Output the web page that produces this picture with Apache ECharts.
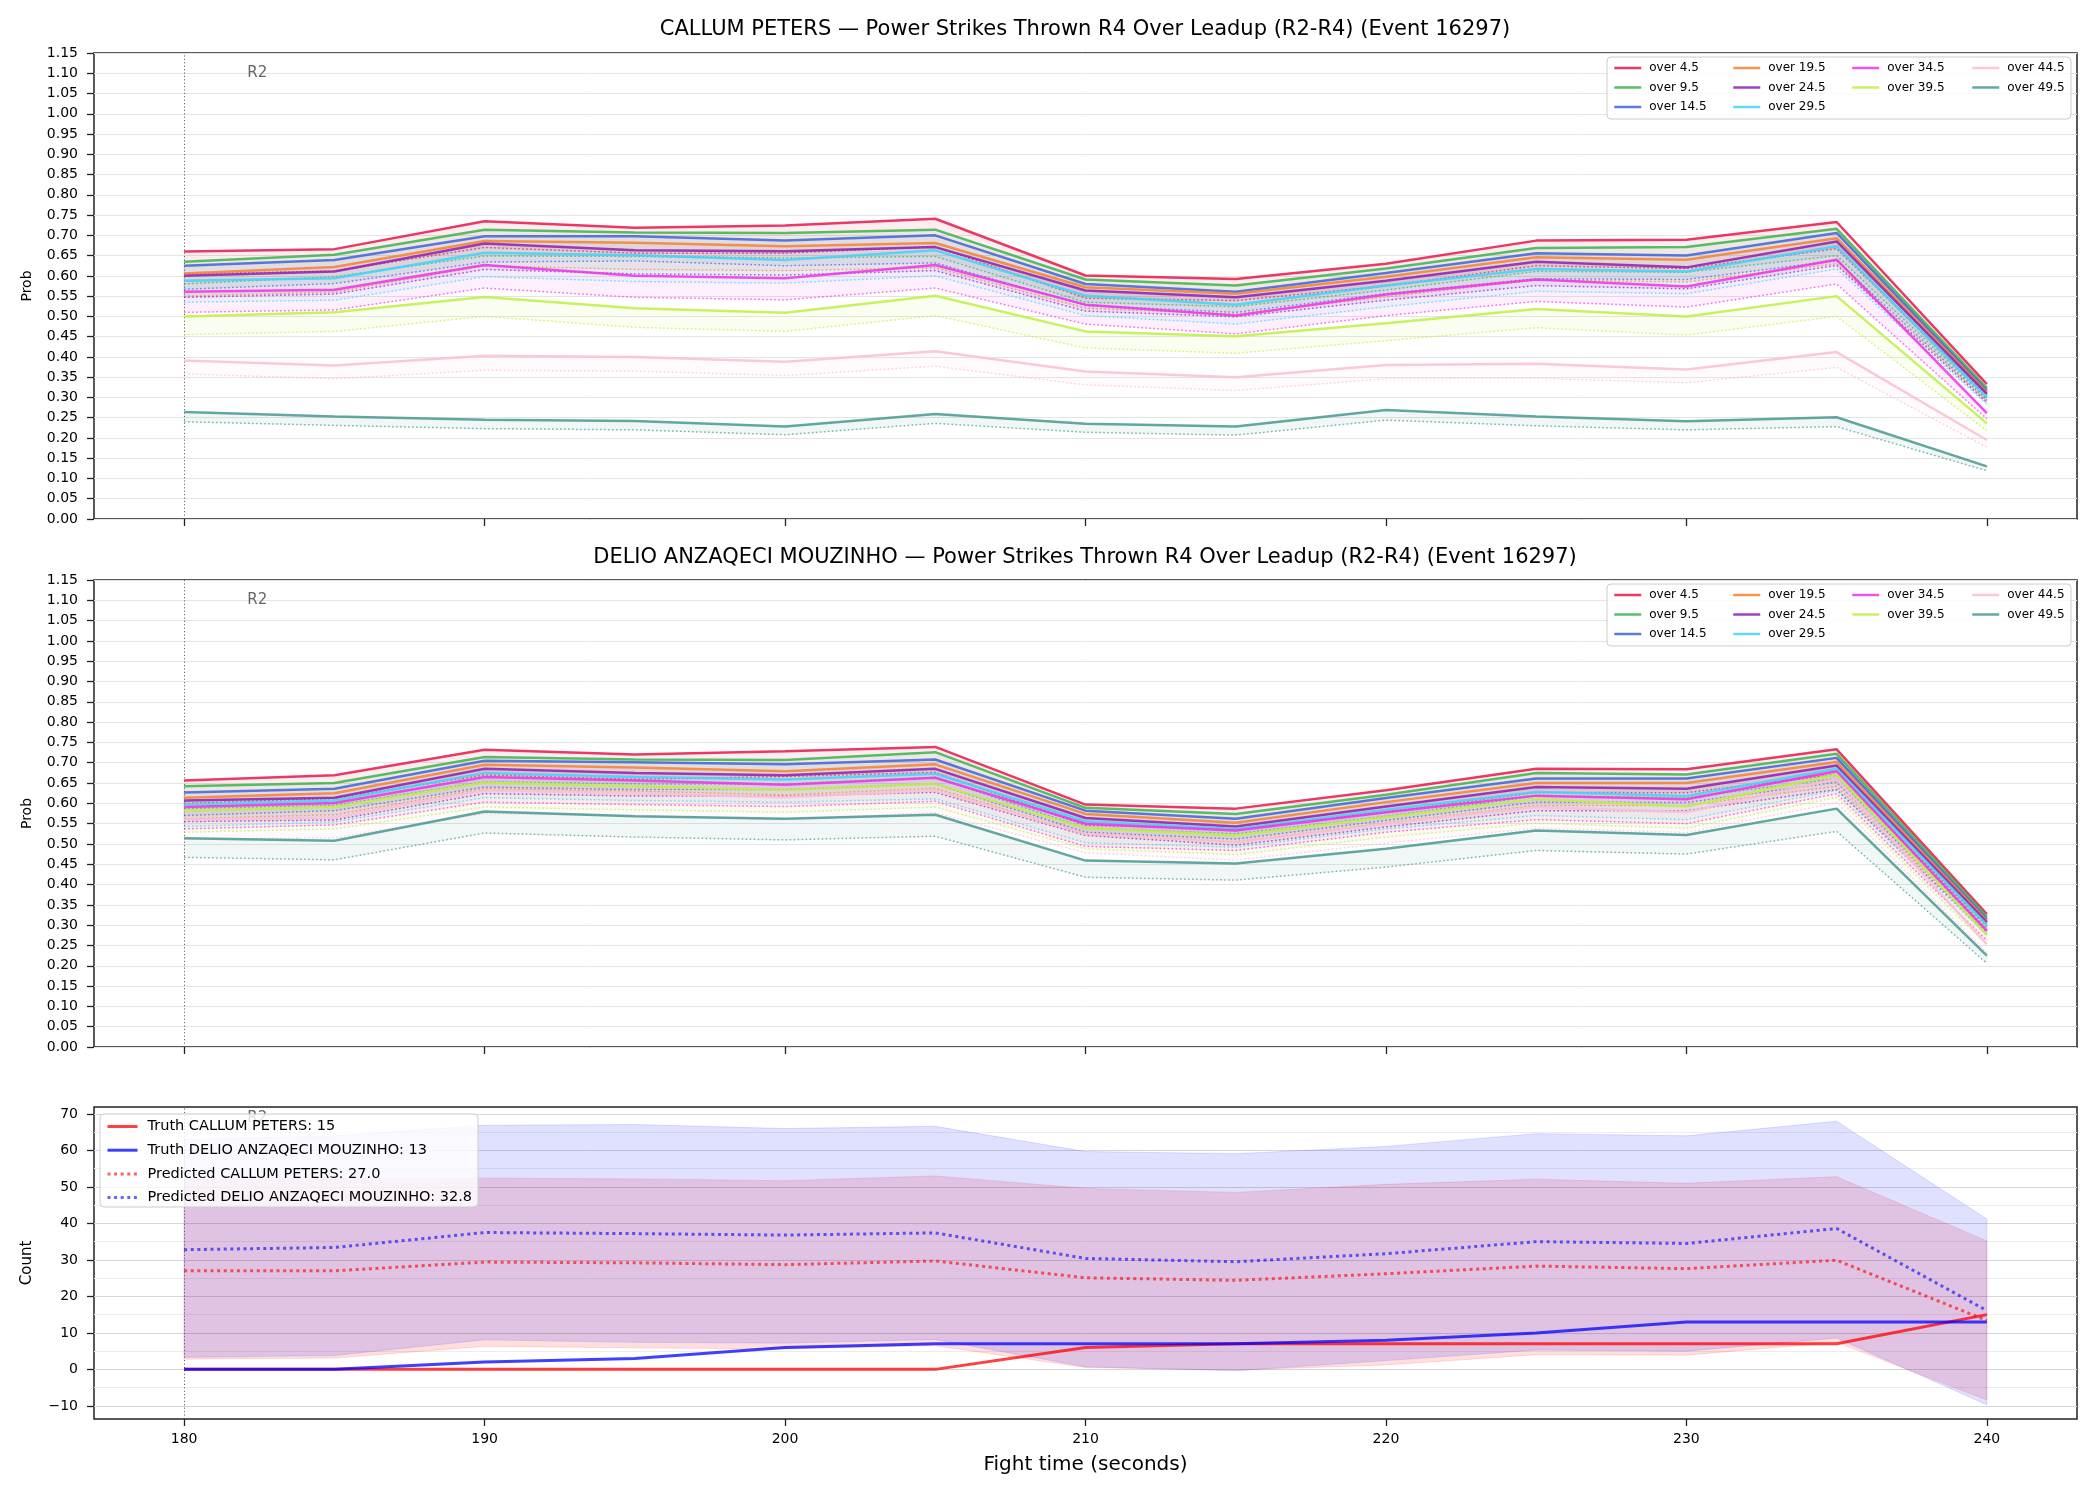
<!DOCTYPE html>
<html>
<head>
<meta charset="utf-8">
<script src="https://cdn.jsdelivr.net/npm/echarts@6/dist/echarts.min.js"></script>
<style>html,body{margin:0;padding:0;background:#fff}#c{width:2100px;height:1500px}</style>
</head>
<body>
<div id="c"></div>
<script>
// ---------------- DATA ----------------
const fighterA = 'CALLUM PETERS';
const fighterB = 'DELIO ANZAQECI MOUZINHO';
const eventLabel = 'Power Strikes Thrown R4 Over Leadup (R2-R4) (Event 16297)';
const times = [180,185,190,195,200,205,210,215,220,225,230,235,240];
const thresholdLabels = ['over 4.5','over 9.5','over 14.5','over 19.5','over 24.5','over 29.5','over 34.5','over 39.5','over 44.5','over 49.5'];
const xTickValues = [180,190,200,210,220,230,240];
const countTickValues = [-10,0,10,20,30,40,50,60,70];
const countGridValues = [-10,-5,0,5,10,15,20,25,30,35,40,45,50,55,60,65,70];
const markerTime = 180;
const markerText = 'R2';

// Panel 1 (CALLUM PETERS) solid lines, one row per threshold
const callumSolid = [
  [0.660,0.666,0.735,0.719,0.724,0.741,0.601,0.592,0.630,0.687,0.689,0.733,0.333],
  [0.635,0.652,0.714,0.707,0.706,0.714,0.591,0.576,0.618,0.669,0.671,0.716,0.323],
  [0.625,0.639,0.698,0.698,0.687,0.700,0.580,0.561,0.607,0.656,0.650,0.706,0.317],
  [0.606,0.622,0.686,0.682,0.673,0.681,0.572,0.556,0.598,0.646,0.640,0.693,0.313],
  [0.600,0.611,0.680,0.663,0.661,0.671,0.564,0.547,0.588,0.635,0.621,0.685,0.309],
  [0.588,0.594,0.657,0.651,0.639,0.663,0.551,0.529,0.576,0.617,0.611,0.673,0.300],
  [0.561,0.566,0.627,0.600,0.594,0.627,0.529,0.502,0.554,0.591,0.574,0.640,0.261],
  [0.500,0.510,0.548,0.520,0.509,0.551,0.463,0.451,0.483,0.518,0.500,0.550,0.236],
  [0.391,0.379,0.403,0.400,0.388,0.414,0.364,0.350,0.380,0.383,0.369,0.412,0.195],
  [0.264,0.253,0.245,0.242,0.228,0.259,0.235,0.228,0.269,0.253,0.241,0.251,0.130]
];
// Panel 1 dotted lines
const callumDotted = [
  [0.605,0.612,0.670,0.656,0.656,0.672,0.545,0.539,0.575,0.625,0.618,0.667,0.305],
  [0.580,0.598,0.649,0.648,0.644,0.648,0.535,0.524,0.565,0.611,0.609,0.650,0.298],
  [0.567,0.581,0.634,0.637,0.625,0.632,0.527,0.510,0.556,0.593,0.591,0.638,0.293],
  [0.550,0.560,0.625,0.616,0.613,0.620,0.520,0.506,0.548,0.590,0.585,0.630,0.290],
  [0.547,0.555,0.616,0.605,0.602,0.613,0.513,0.499,0.540,0.576,0.568,0.626,0.287],
  [0.535,0.540,0.598,0.586,0.582,0.600,0.502,0.481,0.524,0.562,0.556,0.617,0.283],
  [0.510,0.516,0.570,0.547,0.541,0.570,0.481,0.457,0.502,0.537,0.523,0.580,0.247],
  [0.455,0.463,0.500,0.473,0.463,0.502,0.422,0.409,0.440,0.472,0.454,0.500,0.218],
  [0.358,0.346,0.367,0.365,0.354,0.377,0.331,0.317,0.346,0.347,0.336,0.374,0.177],
  [0.240,0.231,0.223,0.220,0.208,0.236,0.214,0.207,0.244,0.230,0.220,0.228,0.119]
];
// Panel 2 (DELIO ANZAQECI MOUZINHO) solid lines
const delioSolid = [
  [0.656,0.669,0.732,0.720,0.728,0.739,0.597,0.587,0.632,0.685,0.684,0.733,0.327],
  [0.642,0.650,0.714,0.708,0.707,0.726,0.589,0.574,0.621,0.675,0.671,0.722,0.321],
  [0.627,0.636,0.705,0.701,0.696,0.708,0.582,0.562,0.613,0.661,0.661,0.712,0.315],
  [0.614,0.625,0.695,0.688,0.679,0.696,0.574,0.552,0.603,0.650,0.650,0.702,0.311],
  [0.607,0.614,0.685,0.675,0.669,0.685,0.564,0.543,0.592,0.640,0.636,0.693,0.307],
  [0.597,0.607,0.675,0.665,0.659,0.673,0.556,0.537,0.584,0.628,0.618,0.685,0.301],
  [0.591,0.601,0.665,0.656,0.646,0.663,0.550,0.533,0.578,0.619,0.610,0.679,0.286],
  [0.582,0.591,0.651,0.642,0.633,0.648,0.539,0.521,0.566,0.611,0.592,0.671,0.276],
  [0.560,0.566,0.632,0.625,0.615,0.632,0.525,0.504,0.550,0.591,0.578,0.660,0.253],
  [0.514,0.508,0.580,0.568,0.562,0.572,0.459,0.452,0.488,0.533,0.522,0.587,0.225]
];
// Panel 2 dotted lines
const delioDotted = [
  [0.600,0.612,0.670,0.659,0.666,0.676,0.546,0.537,0.578,0.627,0.626,0.671,0.299],
  [0.587,0.595,0.653,0.648,0.647,0.664,0.539,0.525,0.568,0.618,0.614,0.661,0.294],
  [0.570,0.582,0.640,0.634,0.634,0.648,0.529,0.512,0.558,0.603,0.602,0.652,0.288],
  [0.562,0.572,0.636,0.630,0.621,0.637,0.525,0.505,0.552,0.595,0.595,0.642,0.285],
  [0.555,0.559,0.624,0.618,0.618,0.627,0.521,0.497,0.542,0.582,0.582,0.634,0.281],
  [0.543,0.554,0.614,0.607,0.603,0.611,0.503,0.492,0.537,0.570,0.560,0.632,0.276],
  [0.537,0.547,0.603,0.597,0.592,0.605,0.494,0.484,0.529,0.560,0.550,0.624,0.262],
  [0.529,0.537,0.591,0.584,0.578,0.591,0.488,0.474,0.517,0.551,0.539,0.615,0.252],
  [0.512,0.515,0.575,0.570,0.560,0.577,0.478,0.460,0.502,0.539,0.528,0.602,0.232],
  [0.467,0.461,0.527,0.517,0.510,0.519,0.418,0.411,0.443,0.484,0.475,0.531,0.206]
];
// Panel 3 counts
const truthA = [0,0,0,0,0,0,6,7,7,7,7,7,15];
const truthB = [0,0,2,3,6,7,7,7,8,10,13,13,13];
const predA  = [27.0,27.0,29.4,29.2,28.7,29.7,25.1,24.4,26.2,28.3,27.6,29.9,13.4];
const predB  = [32.8,33.4,37.5,37.2,36.8,37.4,30.4,29.5,31.7,35.0,34.5,38.6,16.1];
const bandAHigh = [52.0,52.2,52.4,52.2,51.7,53.0,49.6,48.5,50.7,52.1,51.0,52.8,35.2];
const bandALow  = [2.8,3.1,6.3,5.9,5.6,6.5,0.5,-0.2,1.2,4.0,3.9,7.4,-8.4];
const bandBHigh = [63.0,64.0,66.9,67.1,66.0,66.6,59.7,59.1,61.1,64.6,64.0,68.0,41.2];
const bandBLow  = [3.3,3.8,8.1,7.4,7.2,8.2,0.7,-0.4,2.4,5.3,5.0,8.6,-9.7];

// ---------------- STYLE ----------------
const FONT = 'DejaVu Sans';
const palette = ['#e6194b','#3cb44b','#4363d8','#f58231','#911eb4','#42d4f4','#f032e6','#bfef45','#fabed4','#469990'];
function rgba(hex, a){const n=parseInt(hex.slice(1),16);return `rgba(${(n>>16)&255},${(n>>8)&255},${n&255},${a})`;}

const series = [];
function band(gi, lo, hi, fill, stroke, z){
  return {
    type:'custom', xAxisIndex:gi, yAxisIndex:gi, silent:true, z, animation:false,
    data: times.map((t,k)=>[t, lo[k], hi[k]]),
    encode:{x:0, y:[1,2]},
    renderItem:(params, api)=>{
      if (params.dataIndex !== 0) return null;
      const up=[], dn=[];
      for (let k=0;k<times.length;k++){ up.push(api.coord([times[k], hi[k]])); dn.push(api.coord([times[k], lo[k]])); }
      return {type:'polygon', shape:{points: up.concat(dn.reverse())}, style:{fill, stroke, lineWidth:1}};
    }
  };
}
function addProbPanel(gi, solid, dotted){
  solid.forEach((row,i)=>{ series.push(band(gi, dotted[i], row, rgba(palette[i],0.08), rgba(palette[i],0.08), 1)); });
  solid.forEach((row,i)=>{
    series.push({type:'line', name: thresholdLabels[i]+' (dotted)', xAxisIndex:gi, yAxisIndex:gi, silent:true, z:2, animation:false,
      data: times.map((t,k)=>[t, dotted[i][k]]), symbol:'none',
      lineStyle:{color:palette[i], opacity:0.7, width:1.5, type:[1.5,2.5]}});
    series.push({type:'line', name: thresholdLabels[i], xAxisIndex:gi, yAxisIndex:gi, silent:true, z:3, animation:false,
      data: times.map((t,k)=>[t, row[k]]), symbol:'none', itemStyle:{color:palette[i]},
      lineStyle:{color:palette[i], opacity:0.85, width:2.5}});
  });
}
addProbPanel(0, callumSolid, callumDotted);
addProbPanel(1, delioSolid, delioDotted);

// panel markers (vertical line + R2)
[[0,1.10],[1,1.10],[2,68.9]].forEach(([gi, yv])=>{
  series.push({type:'line', xAxisIndex:gi, yAxisIndex:gi, data:[], silent:true, z:2, animation:false,
    markLine:{silent:true, z:2, symbol:['none','none'], label:{show:false}, animation:false,
      lineStyle:{color:'#666', width:1, type:[1.2,2.2]}, data:[{xAxis: markerTime}]},
    markPoint:{silent:true, z:2, animation:false, symbol:'circle', symbolSize:1, itemStyle:{color:'rgba(0,0,0,0)'},
      label:{show:true, formatter: markerText, position:'right', distance:1, color:'#666', fontSize:15, fontFamily:FONT},
      data:[{coord:[markerTime+2.05, yv]}]}
  });
});

// bottom grid lines
series.push({type:'line', xAxisIndex:2, yAxisIndex:2, data:[], silent:true, z:0, animation:false,
  markLine:{silent:true, z:0, symbol:['none','none'], label:{show:false}, animation:false,
    data: countGridValues.map(v=>({yAxis:v, lineStyle:{color: v%10===0 ? '#d6d6d6' : '#ececec', width:1, type:'solid'}}))}});

series.push(band(2, bandALow, bandAHigh, 'rgba(255,0,0,0.13)', 'rgba(255,0,0,0.12)', 1));
series.push(band(2, bandBLow, bandBHigh, 'rgba(0,0,255,0.12)', 'rgba(0,0,255,0.12)', 1));
const nTruthA = `Truth ${fighterA}: ${truthA[truthA.length-1]}`;
const nTruthB = `Truth ${fighterB}: ${truthB[truthB.length-1]}`;
const nPredA = `Predicted ${fighterA}: ${predA[0].toFixed(1)}`;
const nPredB = `Predicted ${fighterB}: ${predB[0].toFixed(1)}`;
series.push({type:'line', name:nTruthA, xAxisIndex:2, yAxisIndex:2, silent:true, z:3, animation:false, symbol:'none',
  data: times.map((t,k)=>[t,truthA[k]]), itemStyle:{color:'#ff4040'}, lineStyle:{color:'rgba(255,0,0,0.75)', width:3}});
series.push({type:'line', name:nTruthB, xAxisIndex:2, yAxisIndex:2, silent:true, z:3, animation:false, symbol:'none',
  data: times.map((t,k)=>[t,truthB[k]]), itemStyle:{color:'#4040ff'}, lineStyle:{color:'rgba(0,0,255,0.75)', width:3}});
series.push({type:'line', name:nPredA, xAxisIndex:2, yAxisIndex:2, silent:true, z:3, animation:false, symbol:'none',
  data: times.map((t,k)=>[t,predA[k]]), itemStyle:{color:'#ff6060'}, lineStyle:{color:'rgba(255,0,0,0.62)', width:3, type:[3,3.6]}});
series.push({type:'line', name:nPredB, xAxisIndex:2, yAxisIndex:2, silent:true, z:3, animation:false, symbol:'none',
  data: times.map((t,k)=>[t,predB[k]]), itemStyle:{color:'#6060ff'}, lineStyle:{color:'rgba(0,0,255,0.6)', width:3, type:[3,3.6]}});

// ---------------- AXES ----------------
const tickStyle = {color:'#222', width:1.3};
function xAxisCfg(gi, showLabels){
  return {type:'value', gridIndex:gi, min:177, max:243,
    axisLine:{show:false, onZero:false},
    axisTick:{show:true, length:7, customValues:xTickValues, lineStyle:tickStyle},
    axisLabel:{show:showLabels, customValues:xTickValues, margin:13, fontSize:14, color:'#000', fontFamily:FONT},
    splitLine:{show:false},
    name: showLabels ? 'Fight time (seconds)' : '', nameLocation:'middle', nameGap:36,
    nameTextStyle:{fontSize:20, color:'#000', fontFamily:FONT}};
}
function yProbCfg(gi){
  return {type:'value', gridIndex:gi, min:0, max:1.15, interval:0.05,
    axisLine:{show:false, onZero:false},
    axisTick:{show:true, length:7, lineStyle:tickStyle},
    axisLabel:{formatter:v=>v.toFixed(2), margin:16, fontSize:14, color:'#000', fontFamily:FONT},
    splitLine:{show:true, lineStyle:{color:'#e4e4e4', width:1}},
    name:'Prob', nameLocation:'middle', nameGap:60, nameTextStyle:{fontSize:14, color:'#000', fontFamily:FONT}};
}
const yCount = {type:'value', gridIndex:2, min:-13.6, max:71.9,
  axisLine:{show:false, onZero:false},
  axisTick:{show:true, length:7, customValues:countTickValues, lineStyle:tickStyle},
  axisLabel:{customValues:countTickValues, formatter:v=> v<0 ? '\u2212'+Math.abs(v) : String(v), margin:16, fontSize:14, color:'#000', fontFamily:FONT},
  splitLine:{show:false},
  name:'Count', nameLocation:'middle', nameGap:59, nameTextStyle:{fontSize:15, color:'#000', fontFamily:FONT}};

const gridBase = {left:94, right:23, show:true, borderColor:'#222', borderWidth:1.5, backgroundColor:'rgba(0,0,0,0)', containLabel:false, outerBoundsMode:'none'};
const grids = [
  Object.assign({top:53, height:466}, gridBase),
  Object.assign({top:580, height:467}, gridBase),
  Object.assign({top:1107, height:312}, gridBase)
];

// ---------------- LEGENDS ----------------
const hiddenSymbol = {opacity:0, color:'rgba(0,0,0,0)', borderWidth:0};
const legends = [];
const colSlices = [[0,3],[3,6],[6,8],[8,10]];
const colLefts = [1613,1732,1851,1971];
[62, 589].forEach(top=>{
  colSlices.forEach((s,ci)=>{
    legends.push({orient:'vertical', left:colLefts[ci], top, padding:0, itemGap:7.5, itemWidth:27, itemHeight:12,
      selectedMode:false, z:11, data: thresholdLabels.slice(s[0], s[1]), itemStyle: hiddenSymbol,
      lineStyle:{width:2.5, opacity:0.85},
      textStyle:{fontSize:12, lineHeight:12, color:'#000', fontFamily:FONT, padding:[0,0,0,3]}});
  });
});
legends.push({orient:'vertical', left:106, top:1119, padding:0, itemGap:8.7, itemWidth:30, itemHeight:14,
  selectedMode:false, z:11, data:[nTruthA, nTruthB, nPredA, nPredB], itemStyle: hiddenSymbol,
  lineStyle:{width:3},
  textStyle:{fontSize:14.5, lineHeight:14, color:'#000', fontFamily:FONT, padding:[0,0,0,5]}});

const frameStyle = {fill:'rgba(255,255,255,0.8)', stroke:'#cccccc', lineWidth:1};
const graphics = [
  {type:'text', x:1085, y:30, z:6, style:{text:`${fighterA} — ${eventLabel}`, font:`21px "${FONT}"`, fill:'#000', align:'center', verticalAlign:'middle', textAlign:'center', textVerticalAlign:'middle'}},
  {type:'text', x:1085, y:558, z:6, style:{text:`${fighterB} — ${eventLabel}`, font:`21px "${FONT}"`, fill:'#000', align:'center', verticalAlign:'middle', textAlign:'center', textVerticalAlign:'middle'}},
  {type:'rect', z:10, shape:{x:1607, y:57, width:464, height:62, r:4}, style:frameStyle},
  {type:'rect', z:10, shape:{x:1607, y:584, width:464, height:62, r:4}, style:frameStyle},
  {type:'rect', z:10, shape:{x:100, y:1114, width:378, height:93, r:4}, style:frameStyle}
];

const chart = echarts.init(document.getElementById('c'), null, {renderer:'canvas', width:2100, height:1500});
chart.setOption({
  backgroundColor:'#ffffff',
  animation:false,
  textStyle:{fontFamily:FONT},
  grid: grids,
  xAxis: [xAxisCfg(0,false), xAxisCfg(1,false), xAxisCfg(2,true)],
  yAxis: [yProbCfg(0), yProbCfg(1), yCount],
  legend: legends,
  graphic: {elements: graphics},
  series
});
</script>
</body>
</html>
